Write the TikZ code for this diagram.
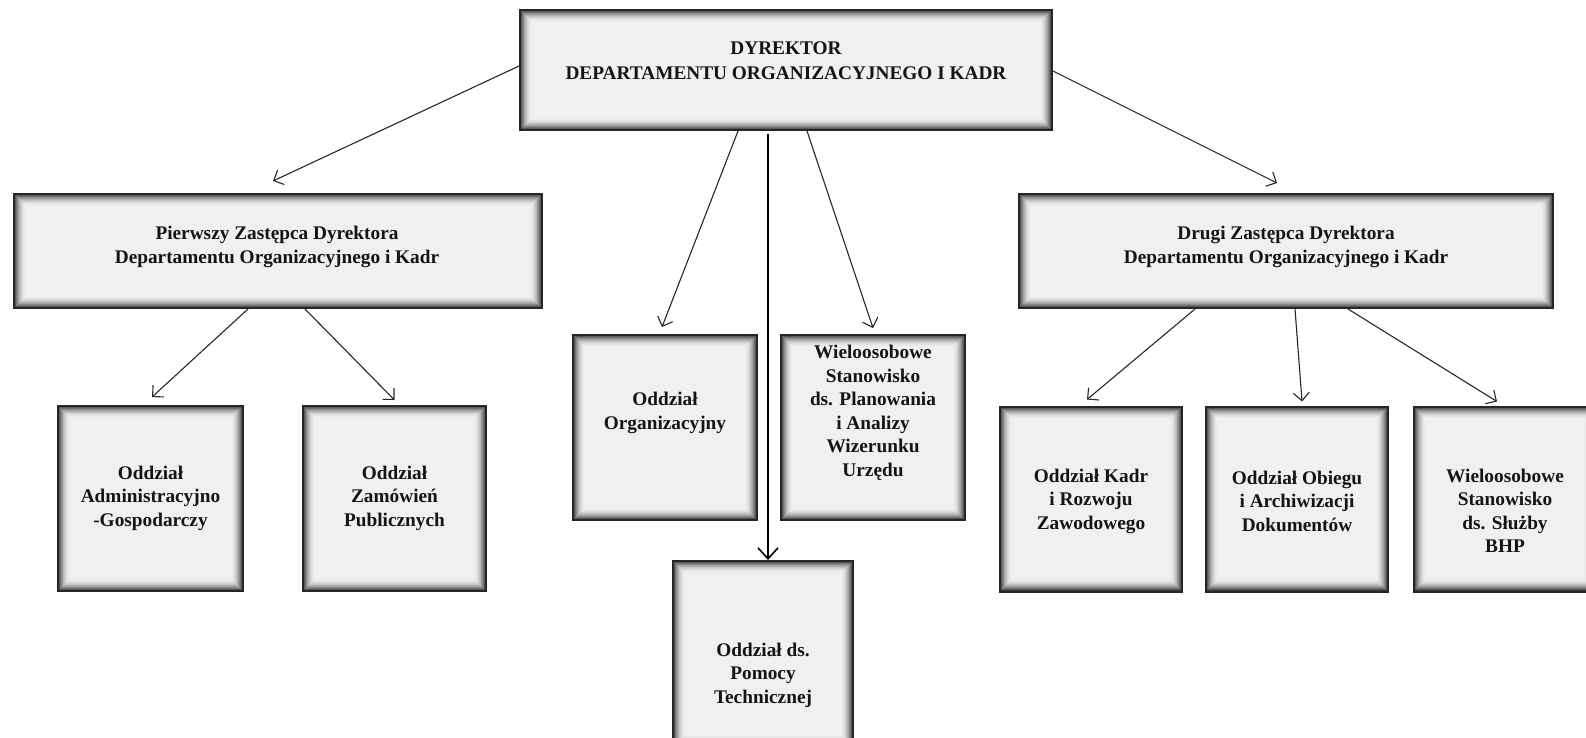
\documentclass[tikz,border=0pt]{standalone}
\usepackage{fontspec}
\setmainfont{Liberation Serif}
\usetikzlibrary{arrows.meta,shadows}
\definecolor{boxfill}{HTML}{F0F0F0}
\definecolor{edge}{HTML}{262626}
\tikzset{
  orgbox/.style={draw=edge, line width=2pt, fill=boxfill, inner sep=0pt,
    drop shadow={shadow xshift=1.2pt, shadow yshift=-1.2pt, opacity=0.3},
    path picture={
      \foreach \k [evaluate=\k as \op using {0.75*(1-\k/12)^2}, evaluate=\k as \d using {\k+0.6}] in {0,...,11}{
        \draw[black, opacity=\op, line width=1.1pt]
          ([xshift={\d*1pt}, yshift={-\d*1pt}]path picture bounding box.north west) rectangle
          ([xshift={-\d*1pt}, yshift={\d*1pt}]path picture bounding box.south east);
      }}},
  txt/.style={font=\bfseries\fontsize{19.3}{23.5}\selectfont, align=center, text=black!92, inner sep=0pt},
  arr/.style={draw=black!85, line width=1.1pt, -{Straight Barb[length=8pt,width=16pt,line width=1.1pt]}},
  arrthick/.style={draw=black, line width=1.8pt, -{Straight Barb[length=11pt,width=20pt,line width=1.6pt]}}
}
\begin{document}
\begin{tikzpicture}[x=1pt,y=-1pt]
\useasboundingbox (0,0) rectangle (1586,737);
\clip (0,0) rectangle (1586,737);
% boxes
\node[orgbox, minimum width=532pt, minimum height=120pt] (dir) at (786,70) {};
\node[orgbox, minimum width=528pt, minimum height=114pt] (p1) at (278,251) {};
\node[orgbox, minimum width=534pt, minimum height=114pt] (p2) at (1286,251) {};
\node[orgbox, minimum width=185pt, minimum height=185pt] (adm) at (150.5,498.5) {};
\node[orgbox, minimum width=183pt, minimum height=185pt] (zam) at (394.5,498.5) {};
\node[orgbox, minimum width=184pt, minimum height=185pt] (org) at (665,427.5) {};
\node[orgbox, minimum width=184pt, minimum height=185pt] (wiel) at (873,427.5) {};
\node[orgbox, minimum width=180pt, minimum height=186pt] (pom) at (763,654) {};
\node[orgbox, minimum width=182pt, minimum height=185pt] (kadr) at (1091,499) {};
\node[orgbox, minimum width=182pt, minimum height=185pt] (obi) at (1297,499) {};
\node[orgbox, minimum width=182pt, minimum height=185pt] (bhp) at (1505,499) {};
% texts
\node[txt, font=\bfseries\fontsize{19.3}{25}\selectfont] (tdir) at (786,61) {DYREKTOR\\DEPARTAMENTU ORGANIZACYJNEGO I KADR};
\node[txt] (tp1) at (277,247) {Pierwszy Zastępca Dyrektora\\Departamentu Organizacyjnego i Kadr};
\node[txt] (tp2) at (1286,247) {Drugi Zastępca Dyrektora\\Departamentu Organizacyjnego i Kadr};
\node[txt] (tadm) at (150.5,498) {Oddział\\Administracyjno\\-Gospodarczy};
\node[txt] (tzam) at (394.5,498) {Oddział\\Zamówień\\Publicznych};
\node[txt] (torg) at (665,413) {Oddział\\Organizacyjny};
\node[txt] (twiel) at (873,413) {Wieloosobowe\\Stanowisko\\ds. Planowania\\i Analizy\\Wizerunku\\Urzędu};
\node[txt] (tpom) at (763,675) {Oddział ds.\\Pomocy\\Technicznej};
\node[txt] (tkadr) at (1091,501) {Oddział Kadr\\i Rozwoju\\Zawodowego};
\node[txt] (tobi) at (1297,501) {Oddział Obiegu\\i Archiwizacji\\Dokumentów};
\node[txt] (tbhp) at (1505,511) {Wieloosobowe\\Stanowisko\\ds. Służby\\BHP};
% connectors
\draw[arr] ([yshift=4pt]dir.west) -- ([xshift=-5pt,yshift=12pt]p1.north);
\draw[arr] ([yshift=-1pt]dir.east) -- ([xshift=-9pt,yshift=10pt]p2.north);
\draw[arr] ([xshift=-48pt]dir.south) -- ([xshift=-3pt,yshift=7pt]org.north);
\draw[arr] ([xshift=21pt]dir.south) -- ([yshift=6pt]wiel.north);
\draw[arrthick] ([xshift=-18pt,yshift=-3pt]dir.south) -- ([xshift=-18pt]dir.south |- pom.north);
\draw[arr] ([xshift=-30pt]p1.south) -- ([xshift=1.5pt,yshift=8pt]adm.north);
\draw[arr] ([xshift=27pt]p1.south) -- ([yshift=5pt]zam.north);
\draw[arr] ([xshift=-91pt]p2.south) -- ([xshift=-4pt,yshift=6pt]kadr.north);
\draw[arr] ([xshift=9pt]p2.south) -- ([xshift=5pt,yshift=4pt]obi.north);
\draw[arr] ([xshift=62pt]p2.south) -- ([xshift=-8pt,yshift=4pt]bhp.north);
\end{tikzpicture}
\end{document}
